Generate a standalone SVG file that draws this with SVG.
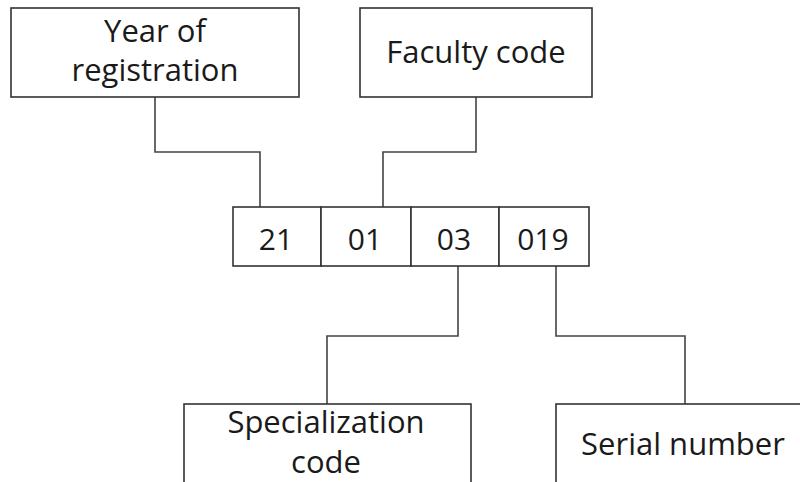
<svg xmlns="http://www.w3.org/2000/svg" width="800" height="482" viewBox="0 0 800 482">
<style>
.box{fill:#fff;stroke:#333;stroke-width:1.6}
.ln{fill:none;stroke:#444;stroke-width:1.6}
text{font-family:"Open Sans","Noto Sans",sans-serif;font-size:31px;fill:#1a1a1a;text-anchor:middle}
.num{font-size:30px}
</style>
<rect width="800" height="482" fill="#fff"/>
<g id="connectors">
<polyline class="ln" points="155,97 155,152 260,152 260,207"/>
<polyline class="ln" points="476,97 476,152 383,152 383,207"/>
<polyline class="ln" points="458,266 458,336 327,336 327,404"/>
<polyline class="ln" points="556,266 556,336 685,336 685,404"/>
</g>
<g id="year">
<rect class="box" x="11" y="8" width="288" height="89"/>
<text x="155" y="42">Year of</text>
<text x="155" y="81">registration</text>
</g>
<g id="faculty">
<rect class="box" x="360" y="8" width="232" height="89"/>
<text x="476" y="63">Faculty code</text>
</g>
<g id="code">
<rect class="box" x="233" y="207" width="88" height="59"/>
<rect class="box" x="321" y="207" width="90" height="59"/>
<rect class="box" x="411" y="207" width="88" height="59"/>
<rect class="box" x="499" y="207" width="90" height="59"/>
<text class="num" x="276" y="250">21</text>
<text class="num" x="365" y="250">01</text>
<text class="num" x="454" y="250">03</text>
<text class="num" x="543" y="250">019</text>
</g>
<g id="specialization">
<rect class="box" x="184" y="404" width="287" height="90"/>
<text x="326" y="433">Specialization</text>
<text x="326" y="473">code</text>
</g>
<g id="serial">
<rect class="box" x="556" y="404" width="260" height="90"/>
<text x="683" y="455">Serial number</text>
</g>
</svg>
